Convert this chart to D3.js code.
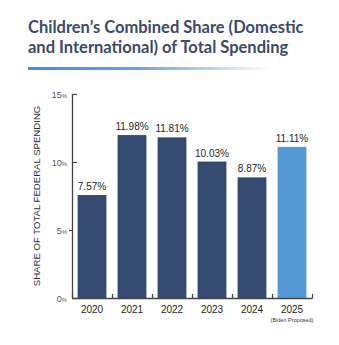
<!DOCTYPE html>
<html>
<head>
<meta charset="utf-8">
<script src="https://cdn.jsdelivr.net/npm/d3@7"></script>
<style>
  body { margin: 0; background: #fff; }
  svg { display: block; }
</style>
</head>
<body>
<div id="chart"></div>
<script>
var years = ["2020", "2021", "2022", "2023", "2024", "2025"];
var shares = [7.57, 11.98, 11.81, 10.03, 8.87, 11.11];
var yTicks = [0, 5, 10, 15];

var width = 339;
var height = 345;

var svg = d3.select("#chart")
  .append("svg")
  .attr("width", width)
  .attr("height", height);

// title
var title = svg.append("text")
  .style("font-family", "Lato, sans-serif")
  .style("font-weight", "bold")
  .style("font-size", "16.5px")
  .style("fill", "#3b4a69");
title.append("tspan").attr("x", 28).attr("y", 33).text("Children\u2019s Combined Share (Domestic");
title.append("tspan").attr("x", 28).attr("y", 53).text("and International) of Total Spending");

var grad = svg.append("defs").append("linearGradient")
  .attr("id", "rule")
  .attr("x1", "0%").attr("x2", "100%");
grad.append("stop").attr("offset", "0%").attr("stop-color", "#4a8cd0");
grad.append("stop").attr("offset", "45%").attr("stop-color", "#6aa3da");
grad.append("stop").attr("offset", "100%").attr("stop-color", "#ffffff");

svg.append("rect")
  .attr("x", 28)
  .attr("y", 67)
  .attr("width", 245)
  .attr("height", 3)
  .style("fill", "url(#rule)");

// scales
var x = d3.scaleBand()
  .domain(years)
  .range([72, 312])
  .paddingInner(0.28)
  .paddingOuter(0.14);

var y = d3.scaleLinear()
  .domain([0, 15])
  .range([298, 94]);

// bars
svg.selectAll("rect.bar")
  .data(years)
  .enter()
  .append("rect")
  .attr("class", "bar")
  .attr("x", function (d) { return x(d); })
  .attr("y", function (d, i) { return y(shares[i]); })
  .attr("width", x.bandwidth())
  .attr("height", function (d, i) { return y(0) - y(shares[i]); })
  .style("fill", function (d) { return d === "2025" ? "#5499d4" : "#344a70"; });

// value labels
svg.selectAll("text.val")
  .data(years)
  .enter()
  .append("text")
  .attr("class", "val")
  .attr("x", function (d) { return x(d) + x.bandwidth() / 2; })
  .attr("y", function (d, i) { return y(shares[i]) - 5; })
  .attr("text-anchor", "middle")
  .style("font-family", "'Liberation Sans', Arial, sans-serif")
  .style("font-size", "10px")
  .style("fill", "#262626")
  .text(function (d, i) { return shares[i].toFixed(2) + "%"; });

// y axis
var axisColor = "#444";
svg.append("line")
  .attr("x1", 72.5).attr("x2", 72.5)
  .attr("y1", y(15)).attr("y2", y(0))
  .style("stroke", axisColor)
  .style("stroke-width", 1.3);

var yt = svg.selectAll("g.ytick")
  .data(yTicks)
  .enter()
  .append("g")
  .attr("class", "ytick")
  .attr("transform", function (d) { return "translate(0," + (Math.round(y(d)) + 0.5) + ")"; });

yt.append("line")
  .attr("x1", function (d) { return d === 5 ? 69 : 72; })
  .attr("x2", function (d) { return d === 5 ? 72 : 77; })
  .style("stroke", axisColor)
  .style("stroke-width", 1.2);

var ytLabel = yt.append("text")
  .attr("x", 67)
  .attr("y", 3)
  .attr("text-anchor", "end")
  .style("font-family", "'Liberation Sans', Arial, sans-serif")
  .style("fill", "#555");
ytLabel.append("tspan").style("font-size", "9px").text(function (d) { return d; });
ytLabel.append("tspan").style("font-size", "6px").text("%");

// x axis
svg.append("line")
  .attr("x1", 72).attr("x2", 312.5)
  .attr("y1", 298.5).attr("y2", 298.5)
  .style("stroke", axisColor)
  .style("stroke-width", 1.3);

var edges = years.map(function (d) { return x(d) - x.step() * x.paddingInner() / 2; });
edges.push(x.range()[1]);

svg.selectAll("line.xtick")
  .data(edges)
  .enter()
  .append("line")
  .attr("class", "xtick")
  .attr("x1", function (d) { return Math.round(d) + 0.5; })
  .attr("x2", function (d) { return Math.round(d) + 0.5; })
  .attr("y1", 294)
  .attr("y2", 298.5)
  .style("stroke", axisColor)
  .style("stroke-width", 1.2);

svg.selectAll("text.year")
  .data(years)
  .enter()
  .append("text")
  .attr("class", "year")
  .attr("x", function (d) { return x(d) + x.bandwidth() / 2; })
  .attr("y", 313)
  .attr("text-anchor", "middle")
  .style("font-family", "'Liberation Sans', Arial, sans-serif")
  .style("font-size", "10px")
  .style("fill", "#222")
  .text(function (d) { return d; });

svg.append("text")
  .attr("x", x("2025") + x.bandwidth() / 2)
  .attr("y", 322)
  .attr("text-anchor", "middle")
  .style("font-family", "'Liberation Sans', Arial, sans-serif")
  .style("font-size", "5.5px")
  .style("fill", "#333")
  .text("(Biden Proposed)");

// y axis title
svg.append("text")
  .attr("transform", "translate(40,196) rotate(-90)")
  .attr("text-anchor", "middle")
  .style("font-family", "'Liberation Sans', Arial, sans-serif")
  .style("font-size", "9.6px")
  .style("fill", "#333")
  .text("SHARE OF TOTAL  FEDERAL SPENDING");
</script>
</body>
</html>
